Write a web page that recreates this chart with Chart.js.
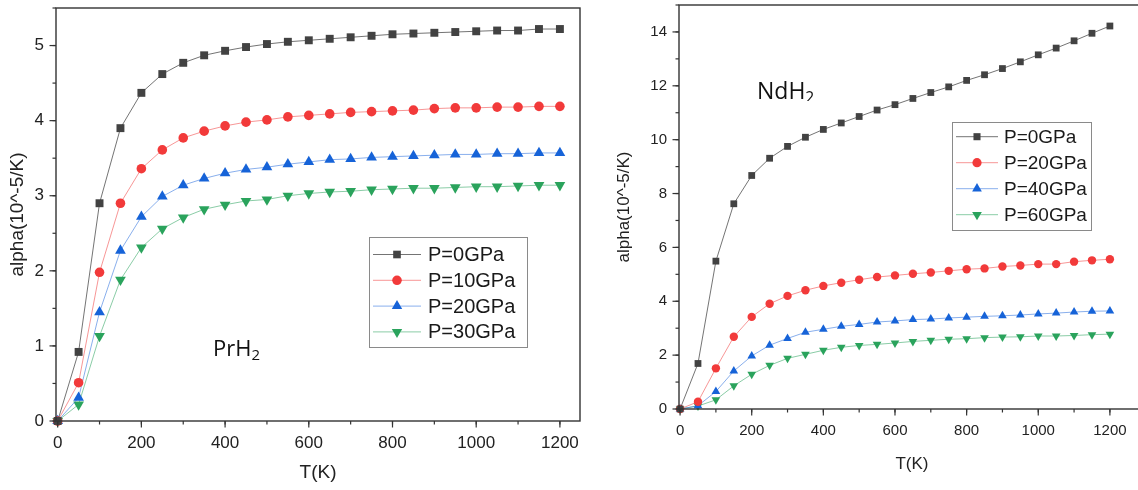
<!DOCTYPE html>
<html>
<head>
<meta charset="utf-8">
<script src="https://cdn.jsdelivr.net/npm/chart.js@4/dist/chart.umd.min.js"></script>
<style>
  html, body { margin: 0; padding: 0; background: #fff; overflow: hidden; width: 1138px; height: 490px; }
  #leftBox { position: absolute; left: 0; top: 0; width: 600px; height: 490px; }
  #rightBox { position: absolute; left: 600px; top: 0; width: 560px; height: 490px; }
  .tag { position: absolute; font-family: "Open Sans"; color: #111; line-height: 1; white-space: nowrap; }
  .tag sub { font-size: 0.68em; vertical-align: -0.28em; line-height: 0; }
</style>
</head>
<body>
<div id="leftBox"><canvas id="prChart"></canvas></div>
<div id="rightBox"><canvas id="ndChart"></canvas></div>
<div class="tag" style="left:213px; top:336px; font-size:22px;">PrH<sub>2</sub></div>
<div class="tag" style="left:757px; top:79px; height:22px; overflow:hidden; font-size:23px;">NdH<sub>2</sub></div>
<script>
// nhiệt độ T(K), dùng chung cho cả hai hình
const temps = [0, 50, 100, 150, 200, 250, 300, 350, 400, 450, 500, 550, 600,
  650, 700, 750, 800, 850, 900, 950, 1000, 1050, 1100, 1150, 1200];

// PrH2 - alpha (10^-5/K)
const prLabels = ['P=0GPa', 'P=10GPa', 'P=20GPa', 'P=30GPa'];
const prP0 = [0, 0.92, 2.90, 3.90, 4.37, 4.62, 4.77, 4.87, 4.93, 4.98, 5.02, 5.05, 5.07,
  5.09, 5.11, 5.13, 5.15, 5.16, 5.17, 5.18, 5.19, 5.20, 5.20, 5.22, 5.22];
const prP10 = [0, 0.51, 1.98, 2.90, 3.36, 3.61, 3.77, 3.86, 3.93, 3.98, 4.01, 4.05, 4.07,
  4.09, 4.11, 4.12, 4.13, 4.14, 4.16, 4.17, 4.17, 4.18, 4.18, 4.19, 4.19];
const prP20 = [0, 0.31, 1.45, 2.27, 2.72, 2.99, 3.14, 3.23, 3.30, 3.35, 3.38, 3.42, 3.45,
  3.48, 3.49, 3.51, 3.52, 3.53, 3.54, 3.55, 3.55, 3.56, 3.56, 3.57, 3.57];
const prP30 = [0, 0.22, 1.13, 1.88, 2.31, 2.56, 2.71, 2.82, 2.88, 2.93, 2.95, 3.00, 3.03,
  3.05, 3.06, 3.08, 3.09, 3.10, 3.10, 3.11, 3.12, 3.12, 3.13, 3.14, 3.14];

// NdH2 - alpha (10^-5/K)
const ndLabels = ['P=0GPa', 'P=20GPa', 'P=40GPa', 'P=60GPa'];
const ndP0 = [0, 1.69, 5.49, 7.62, 8.67, 9.31, 9.75, 10.09, 10.38, 10.62, 10.86, 11.10, 11.30,
  11.53, 11.75, 11.96, 12.20, 12.41, 12.64, 12.89, 13.15, 13.40, 13.67, 13.95, 14.22];
const ndP20 = [0, 0.27, 1.51, 2.68, 3.42, 3.91, 4.20, 4.41, 4.57, 4.69, 4.80, 4.90, 4.96,
  5.02, 5.07, 5.13, 5.19, 5.22, 5.29, 5.33, 5.38, 5.38, 5.47, 5.52, 5.56];
const ndP40 = [0, 0.12, 0.65, 1.41, 1.97, 2.37, 2.62, 2.85, 2.96, 3.07, 3.14, 3.23, 3.27,
  3.32, 3.34, 3.38, 3.41, 3.44, 3.46, 3.49, 3.53, 3.56, 3.60, 3.63, 3.64];
const ndP60 = [0, 0.11, 0.34, 0.86, 1.29, 1.62, 1.88, 2.03, 2.18, 2.29, 2.36, 2.40, 2.45,
  2.51, 2.55, 2.59, 2.61, 2.65, 2.67, 2.68, 2.71, 2.71, 2.73, 2.76, 2.78];

// kiểu đường / điểm cho 4 dãy
const styles = [
  { color: '#424242', line: 'rgba(70,70,70,0.75)', shape: 'rect', rot: 0 },
  { color: '#f23a3a', line: 'rgba(242,80,80,0.6)', shape: 'circle', rot: 0 },
  { color: '#1663d8', line: 'rgba(40,110,220,0.55)', shape: 'triangle', rot: 0 },
  { color: '#2aa35c', line: 'rgba(42,163,92,0.55)', shape: 'triangle', rot: 180 },
];

const FONT = '"Liberation Sans", Arial, sans-serif';

function marker(ctx, shape, rot, x, y, r) {
  ctx.beginPath();
  if (shape === 'rect') {
    const s = r * Math.SQRT1_2;
    ctx.rect(x - s, y - s, 2 * s, 2 * s);
  } else if (shape === 'circle') {
    ctx.arc(x, y, r, 0, Math.PI * 2);
  } else {
    const d = rot ? -1 : 1;
    ctx.moveTo(x, y - d * r);
    ctx.lineTo(x + r * 0.866, y + d * r * 0.5);
    ctx.lineTo(x - r * 0.866, y + d * r * 0.5);
    ctx.closePath();
  }
  ctx.fill();
}

// khung, vạch chia phụ và chú thích kiểu Origin
const originFrame = {
  id: 'originFrame',
  afterDraw(chart, args, opts) {
    const { ctx, chartArea: a, scales: { x, y } } = chart;
    ctx.save();
    ctx.strokeStyle = '#333';
    ctx.lineWidth = 1.4;
    ctx.strokeRect(a.left, a.top, a.right - a.left, a.bottom - a.top);
    ctx.lineWidth = 1.2;
    const ticks = (scale, step, len) => {
      const i0 = Math.ceil(scale.min / step), i1 = Math.floor(scale.max / step + 1e-6);
      for (let i = i0; i <= i1; i++) {
        const p = scale.getPixelForValue(i * step);
        ctx.beginPath();
        if (scale.axis === 'x') { ctx.moveTo(p, a.bottom); ctx.lineTo(p, a.bottom + len); }
        else { ctx.moveTo(a.left, p); ctx.lineTo(a.left - len, p); }
        ctx.stroke();
      }
    };
    ticks(x, opts.xMinor, 3.5); ticks(x, opts.xMajor, 6.5);
    ticks(y, opts.yMinor, 3.5); ticks(y, opts.yMajor, 6.5);

    // chú thích
    const L = opts.legend;
    ctx.fillStyle = '#fff';
    ctx.fillRect(L.x, L.y, L.w, L.h);
    ctx.strokeStyle = '#8a8a8a';
    ctx.lineWidth = 1;
    ctx.strokeRect(L.x + 0.5, L.y + 0.5, L.w, L.h);
    ctx.font = L.font + 'px ' + FONT;
    ctx.textBaseline = 'middle';
    chart.data.datasets.forEach((ds, i) => {
      const st = styles[i];
      const ry = L.row0 + i * L.gap;
      ctx.strokeStyle = st.line;
      ctx.lineWidth = 1;
      ctx.beginPath();
      ctx.moveTo(L.lineX0, ry); ctx.lineTo(L.lineX1, ry);
      ctx.stroke();
      ctx.fillStyle = st.color;
      marker(ctx, st.shape, st.rot, (L.lineX0 + L.lineX1) / 2, ry, L.r[i]);
      ctx.fillStyle = '#1a1a1a';
      ctx.fillText(ds.label, L.textX, ry + 1);
    });
    ctx.restore();
  }
};

function makeSeries(labels, series, radii) {
  return series.map((vals, i) => ({
    label: labels[i],
    data: temps.map((t, k) => ({ x: t, y: vals[k] })),
    borderColor: styles[i].line,
    borderWidth: 1,
    backgroundColor: styles[i].color,
    pointBackgroundColor: styles[i].color,
    pointBorderWidth: 0,
    pointStyle: styles[i].shape,
    pointRotation: styles[i].rot,
    pointRadius: radii[i],
    tension: 0,
    clip: false,
  }));
}

function makeChart(id, cfg) {
  return new Chart(document.getElementById(id), {
    type: 'line',
    data: { datasets: makeSeries(cfg.labels, cfg.series, cfg.radii) },
    plugins: [originFrame],
    options: {
      responsive: true,
      maintainAspectRatio: false,
      animation: false,
      layout: { padding: { top: cfg.top, right: cfg.right, left: 0, bottom: 0 } },
      plugins: {
        legend: { display: false },
        tooltip: { enabled: false },
        originFrame: cfg.frame,
      },
      scales: {
        x: {
          type: 'linear',
          min: cfg.xMin, max: cfg.xMax,
          grid: { display: false, drawTicks: false },
          border: { display: false },
          ticks: { stepSize: 200, includeBounds: false, padding: cfg.xPad, color: '#222',
            font: { family: FONT, size: cfg.tickSize }, callback: v => String(v) },
          title: { display: true, text: 'T(K)', color: '#222', font: { family: FONT, size: cfg.titleSize }, padding: { top: 0, bottom: cfg.xTitlePad } },
          afterFit: s => { s.height = cfg.xH; s.paddingLeft = 0; s.paddingRight = 0; },
        },
        y: {
          min: 0, max: cfg.yMax,
          grid: { display: false, drawTicks: false },
          border: { display: false },
          ticks: { stepSize: cfg.yStep, includeBounds: false, padding: 12, color: '#222',
            font: { family: FONT, size: cfg.tickSize }, callback: v => String(v) },
          title: { display: true, text: 'alpha(10^-5/K)', color: '#222', font: { family: FONT, size: cfg.titleSize }, padding: { top: cfg.yTitlePad, bottom: 0 } },
          afterFit: s => { s.width = cfg.yW; s.paddingTop = 0; s.paddingBottom = 0; },
        },
      },
    },
  });
}

// Hình trái: PrH2
const prChart = makeChart('prChart', {
  labels: prLabels,
  series: [prP0, prP10, prP20, prP30],
  radii: [5.6, 4.8, 6.2, 6.2],
  top: 8, right: 20, xH: 69, yW: 56,
  xMin: -4, xMax: 1248, yMax: 5.5, yStep: 1,
  tickSize: 17, titleSize: 19, xPad: 12, xTitlePad: 6, yTitlePad: 6,
  frame: {
    xMinor: 100, xMajor: 200, yMinor: 0.5, yMajor: 1,
    legend: { x: 369, y: 237, w: 158, h: 110, row0: 254.5, gap: 25.8, lineX0: 373, lineX1: 421,
      textX: 428, font: 20, r: [5.4, 4.8, 6, 6] },
  },
});

// Hình phải: NdH2
const ndChart = makeChart('ndChart', {
  labels: ndLabels,
  series: [ndP0, ndP20, ndP40, ndP60],
  radii: [4.8, 4.2, 5.0, 5.0],
  top: 4, right: 15, xH: 81, yW: 79,
  xMin: -3, xMax: 1298, yMax: 15, yStep: 2,
  tickSize: 15, titleSize: 17, xPad: 13, xTitlePad: 15, yTitlePad: 14,
  frame: {
    xMinor: 100, xMajor: 200, yMinor: 1, yMajor: 2,
    legend: { x: 352, y: 122, w: 139, h: 108, row0: 136.7, gap: 26, lineX0: 356, lineX1: 398,
      textX: 404, font: 19, r: [5, 4.6, 5.6, 5.6] },
  },
});
</script>
</body>
</html>
